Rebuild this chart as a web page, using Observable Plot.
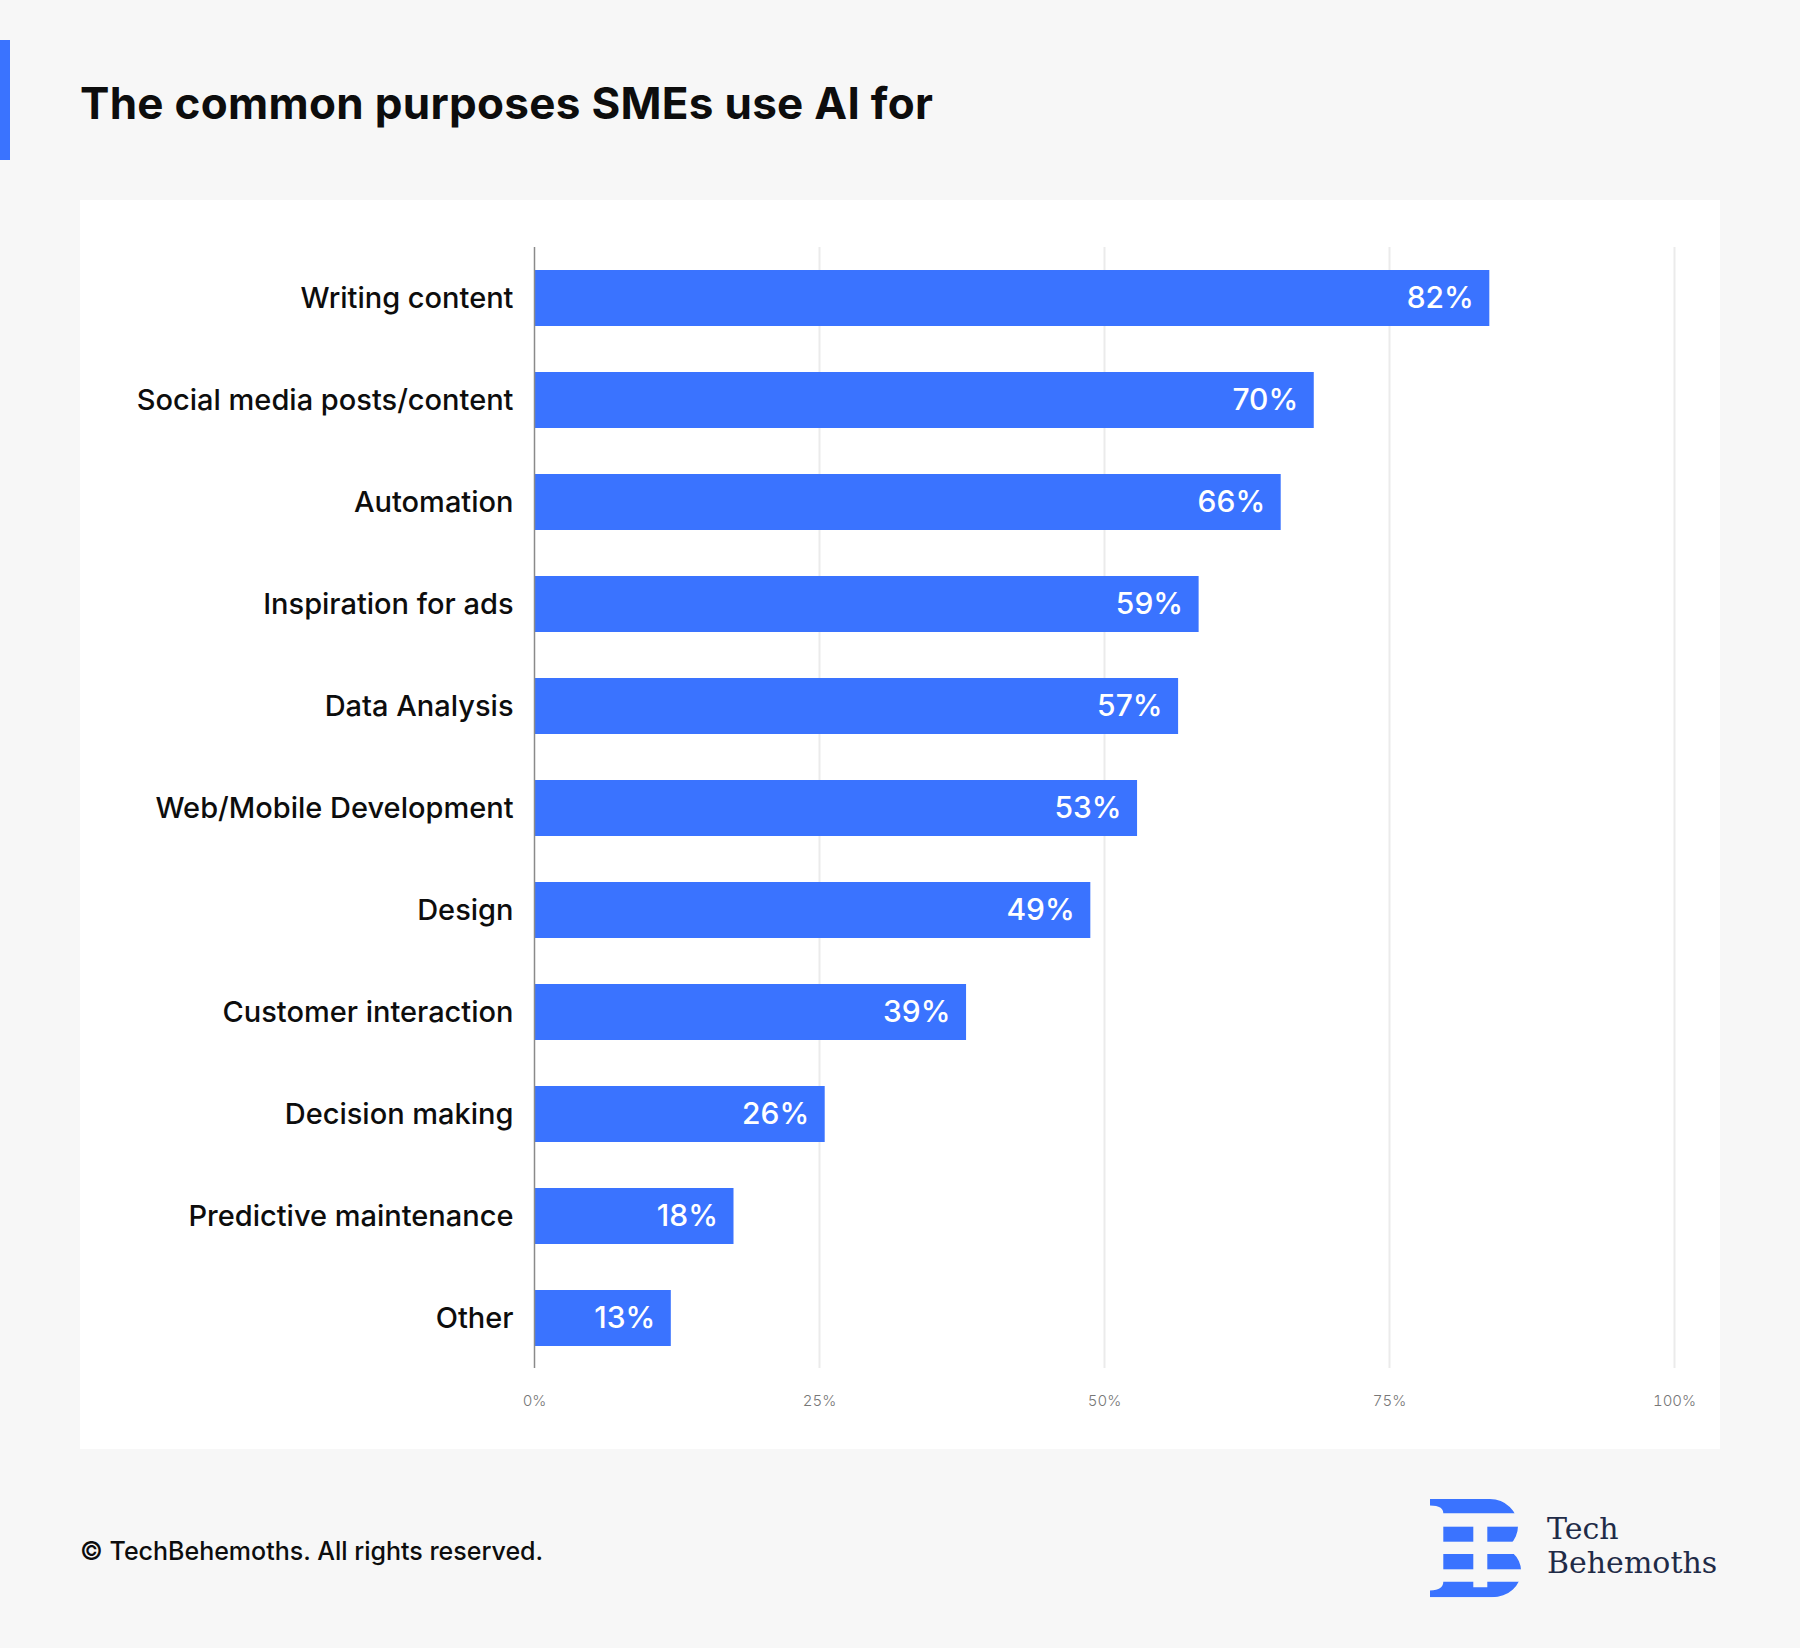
<!DOCTYPE html>
<html>
<head>
<meta charset="utf-8">
<script src="https://cdn.jsdelivr.net/npm/d3@7"></script>
<script src="https://cdn.jsdelivr.net/npm/@observablehq/plot@0.6"></script>
<style>
  html, body { margin: 0; padding: 0; }
  body { width: 1800px; height: 1648px; background: #f7f7f7; position: relative; overflow: hidden; font-family: Inter, "Noto Sans", sans-serif; }
  #accent { position: absolute; left: 0; top: 40px; width: 10px; height: 120px; background: #3a73ff; }
  #title { position: absolute; left: 80px; top: 81px; font-size: 44px; line-height: 44px; font-weight: 700; color: #0d0d0d; letter-spacing: 0.3px; white-space: nowrap; }
  #panel { position: absolute; left: 80px; top: 200px; width: 1640px; height: 1249px; background: #ffffff; }
  #panel svg { display: block; }
  #footer { position: absolute; left: 80px; top: 1539px; font-size: 25px; line-height: 25px; font-weight: 500; color: #0d0d0d; white-space: nowrap; }
  #logo { position: absolute; left: 1430px; top: 1499px; }
  #brand { position: absolute; left: 1547px; top: 1512px; font-family: "DejaVu Serif", serif; font-size: 30px; line-height: 34px; color: #1f2b47; white-space: nowrap; }
</style>
</head>
<body>
<div id="accent"></div>
<div id="title">The common purposes SMEs use AI for</div>
<div id="panel"></div>
<div id="footer">© TechBehemoths. All rights reserved.</div>
<svg id="logo" width="92" height="99" viewBox="0 0 92 99">
  <defs>
    <clipPath id="bclip">
      <path d="M0,0 H60 A28,27 0 0 1 60,54 H0 Z M0,46 H62 A29,26 0 0 1 62,98.3 H0 Z"/>
    </clipPath>
  </defs>
  <g clip-path="url(#bclip)" fill="#3a73ff">
    <path d="M0,0 H100 V14.3 H13.3 C13.3,9.5 9.5,6.5 0,6.5 Z"/>
    <rect x="13.3" y="27.7" width="30" height="15"/>
    <rect x="57.3" y="27.7" width="50" height="15"/>
    <rect x="13.3" y="55" width="30" height="15.3"/>
    <rect x="57.3" y="55" width="50" height="15.3"/>
    <path d="M0,98.3 H100 V82.7 H57.3 V88.3 H43.3 V82.7 H13.3 C13.3,87.5 9.5,91.5 0,91.5 Z"/>
  </g>
</svg>
<div id="brand">Tech<br>Behemoths</div>
<script>
// Categories, top to bottom
const categories = [
  "Writing content",
  "Social media posts/content",
  "Automation",
  "Inspiration for ads",
  "Data Analysis",
  "Web/Mobile Development",
  "Design",
  "Customer interaction",
  "Decision making",
  "Predictive maintenance",
  "Other"
];
// Bar lengths as drawn in the picture (percent)
const barLengths = [83.8, 68.4, 65.5, 58.3, 56.5, 52.9, 48.8, 37.9, 25.5, 17.5, 12.0];
// Printed value labels (percent)
const valueLabels = [82, 70, 66, 59, 57, 53, 49, 39, 26, 18, 13];
// X tick values
const xTicks = [0, 25, 50, 75, 100];

const rows = categories.map((c, i) => ({category: c, value: barLengths[i], label: valueLabels[i] + "%"}));

const chart = Plot.plot({
  width: 1640,
  height: 1249,
  marginLeft: 454,
  marginRight: 46,
  marginTop: 47,
  marginBottom: 81,
  style: {background: "transparent", fontFamily: "Inter, 'Noto Sans', sans-serif"},
  x: {domain: [0, 100], ticks: xTicks, label: null},
  y: {domain: categories, paddingInner: 0.453, paddingOuter: 0.206, label: null},
  marks: [
    Plot.gridX(xTicks.slice(1), {stroke: "#ebebeb", strokeWidth: 2, strokeOpacity: 1}),
    Plot.axisX({ticks: xTicks, tickFormat: d => d + "%", tickSize: 0, tickPadding: 27, fontSize: 15, fontWeight: 300, fill: "#777777", label: null}),
    Plot.axisY({tickSize: 0, tickPadding: 21, fontSize: 29, fontWeight: 500, fill: "#0d0d0d", label: null}),
    Plot.barX(rows, {x: "value", y: "category", fill: "#3a73ff"}),
    Plot.ruleX([0], {stroke: "#8a8a8a", strokeWidth: 1.5}),
    Plot.text(rows, {x: "value", y: "category", text: "label", textAnchor: "end", dx: -16, fill: "white", fontSize: 30, fontWeight: 500})
  ]
});
document.getElementById("panel").appendChild(chart);
</script>
</body>
</html>
